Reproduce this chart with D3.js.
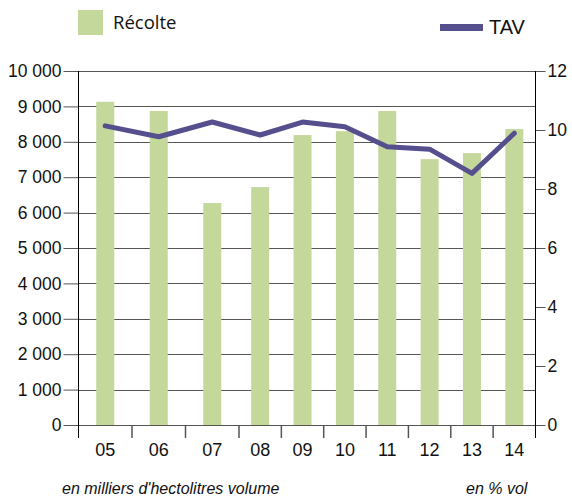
<!DOCTYPE html>
<html>
<head>
<meta charset="utf-8">
<script src="https://cdn.jsdelivr.net/npm/d3@7"></script>
<style>
  body { margin: 0; background: #fff; }
  svg { display: block; }
</style>
</head>
<body>
<svg id="chart" width="572" height="499"></svg>
<script>
// years, harvest (thousand hl) and TAV (% vol)
var years = ['05', '06', '07', '08', '09', '10', '11', '12', '13', '14']
var recolte = [9130, 8870, 6270, 6720, 8190, 8300, 8870, 7510, 7680, 8360]
var tav = [10.14, 9.77, 10.27, 9.83, 10.27, 10.11, 9.43, 9.35, 8.53, 9.89]
var leftTicks = [0, 1000, 2000, 3000, 4000, 5000, 6000, 7000, 8000, 9000, 10000]
var rightTicks = [0, 2, 4, 6, 8, 10, 12]

var svg = d3.select('#chart')
var plotLeft = 78.5, plotRight = 535.5, plotTop = 71, plotBottom = 425

// the original is pasted from two pieces: 05-07 are wider than 08-14
var x = d3.scaleLinear().domain([0, 3, 10]).range([plotLeft, 239, plotRight])
var y = d3.scaleLinear().domain([0, 10000]).range([plotBottom, plotTop])
var y2 = d3.scaleLinear().domain([0, 12]).range([plotBottom, plotTop])

var green = '#c4d89c', purple = '#564f8e'
var font = 'Liberation Sans, Arial, sans-serif'

// gridlines
svg.append('g')
  .selectAll('line')
  .data(leftTicks)
  .enter().append('line')
  .attr('x1', plotLeft)
  .attr('x2', plotRight)
  .attr('y1', function(d) { return Math.round(y(d)) + 0.5 })
  .attr('y2', function(d) { return Math.round(y(d)) + 0.5 })
  .attr('stroke', '#555')
  .attr('stroke-width', 1.2)

// bars
svg.append('g')
  .selectAll('rect')
  .data(recolte)
  .enter().append('rect')
  .attr('x', function(d, i) { return x(i + 0.5) - 9 })
  .attr('width', 18)
  .attr('y', function(d) { return y(d) })
  .attr('height', function(d) { return y(0) - y(d) })
  .attr('fill', green)

// line
svg.append('path')
  .datum(tav)
  .attr('fill', 'none')
  .attr('stroke', purple)
  .attr('stroke-width', 5)
  .attr('stroke-linejoin', 'round')
  .attr('stroke-linecap', 'round')
  .attr('d', d3.line()
    .x(function(d, i) { return x(i + 0.5) })
    .y(function(d) { return y2(d) }))

// left axis
var gl = svg.append('g').attr('transform', 'translate(' + plotLeft + ',0)')
gl.call(d3.axisLeft(y).tickValues(leftTicks).tickSize(15).tickPadding(2)
  .tickFormat(function(d) { return d3.format(',')(d).replace(',', ' ') }))
gl.select('.domain').remove()
gl.append('line').attr('y1', plotTop).attr('y2', 438).attr('stroke', '#000')
gl.selectAll('.tick line').attr('stroke', '#555')
gl.selectAll('text').attr('font-family', font).attr('font-size', 17.5).attr('fill', '#111')

// right axis
var gr = svg.append('g').attr('transform', 'translate(' + plotRight + ',0)')
gr.call(d3.axisRight(y2).tickValues(rightTicks).tickSize(10).tickPadding(2))
gr.select('.domain').remove()
gr.append('line').attr('y1', plotTop).attr('y2', 438).attr('stroke', '#000')
gr.selectAll('.tick line').attr('stroke', '#555')
gr.selectAll('text').attr('font-family', font).attr('font-size', 17.5).attr('fill', '#111')

// bottom ticks and year labels
var gb = svg.append('g')
gb.selectAll('line')
  .data(d3.range(1, years.length))
  .enter().append('line')
  .attr('x1', function(d) { return x(d) })
  .attr('x2', function(d) { return x(d) })
  .attr('y1', plotBottom)
  .attr('y2', 438)
  .attr('stroke', '#555')
  .attr('stroke-width', 1.5)
gb.selectAll('text')
  .data(years)
  .enter().append('text')
  .attr('x', function(d, i) { return x(i + 0.5) })
  .attr('y', 456)
  .attr('text-anchor', 'middle')
  .attr('font-family', font)
  .attr('font-size', 18)
  .attr('fill', '#111')
  .text(function(d) { return d })

// legend
svg.append('rect').attr('x', 78).attr('y', 10).attr('width', 25).attr('height', 25).attr('fill', green)
svg.append('text').attr('x', 113).attr('y', 29)
  .attr('font-family', 'Open Sans, sans-serif').attr('font-size', 18.5).attr('fill', '#111')
  .text('Récolte')
svg.append('line').attr('x1', 440).attr('x2', 483).attr('y1', 27.5).attr('y2', 27.5)
  .attr('stroke', purple).attr('stroke-width', 7)
svg.append('text').attr('x', 489).attr('y', 34)
  .attr('font-family', font).attr('font-size', 20).attr('fill', '#111')
  .text('TAV')

// units
svg.append('text').attr('x', 62).attr('y', 494)
  .attr('font-family', font).attr('font-size', 16).attr('font-style', 'italic').attr('fill', '#111')
  .text("en milliers d'hectolitres volume")
svg.append('text').attr('x', 466).attr('y', 494)
  .attr('font-family', font).attr('font-size', 16).attr('font-style', 'italic').attr('fill', '#111')
  .text('en % vol')
</script>
</body>
</html>
